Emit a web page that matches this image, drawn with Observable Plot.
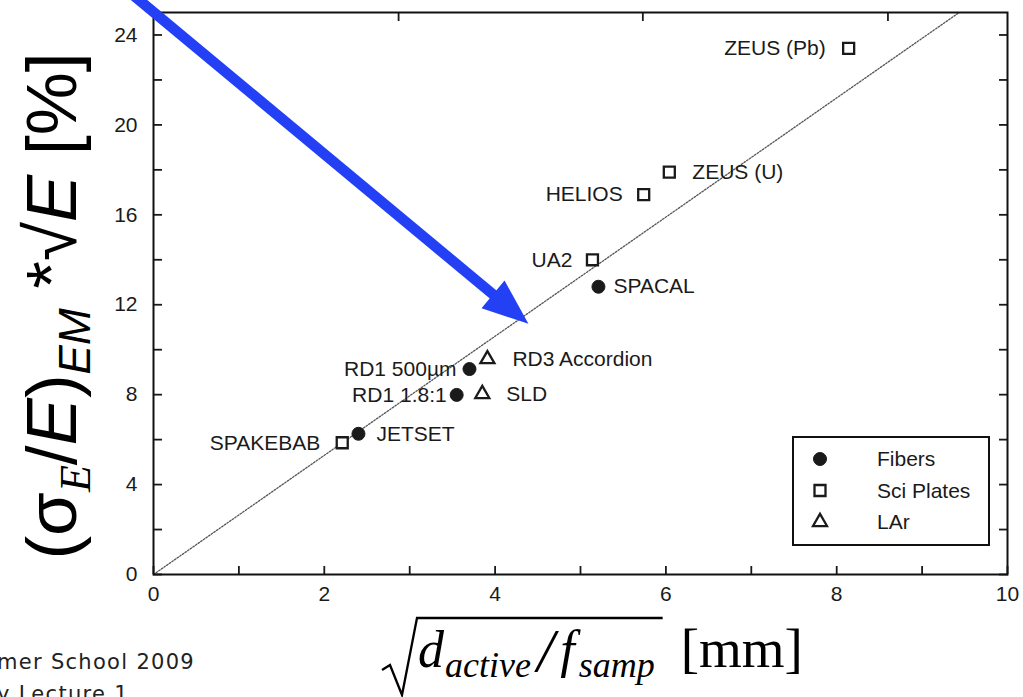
<!DOCTYPE html>
<html><head><meta charset="utf-8">
<script src="https://cdn.jsdelivr.net/npm/d3@7"></script>
<script src="https://cdn.jsdelivr.net/npm/@observablehq/plot@0.6"></script>
<style>html,body{margin:0;padding:0;background:#fff;overflow:hidden}</style>
</head><body><div id="chart"></div>
<script>
// ---- data ----
const experiments = ["ZEUS (Pb)", "ZEUS (U)", "HELIOS", "UA2", "SPACAL", "RD3 Accordion", "RD1 500µm", "SLD", "RD1 1.8:1", "SPAKEBAB", "JETSET"];
const samplingScale = [8.14, 6.04, 5.74, 5.14, 5.21, 3.91, 3.70, 3.85, 3.55, 2.21, 2.40];   // sqrt(d_active/f_samp) [mm]
const resolution = [23.4, 17.9, 16.9, 14.0, 12.8, 9.58, 9.14, 8.03, 7.99, 5.86, 6.26];     // (sigma/E)*sqrt(E) [%]
const technique = ["Sci Plates", "Sci Plates", "Sci Plates", "Sci Plates", "Fibers", "LAr", "Fibers", "LAr", "Fibers", "Sci Plates", "Fibers"];
const labelSide = ["left", "right", "left", "left", "right", "right", "left", "right", "left", "left", "right"];
const techniques = ["Fibers", "Sci Plates", "LAr"];
const fitX = [0, 10];
const fitY = [0, 26.5];
const xTickLabels = [0, 2, 4, 6, 8, 10];
const xTicks = [0, 1, 2, 3, 4, 5, 6, 7, 8, 9, 10];
const yTickLabels = [0, 4, 8, 12, 16, 20, 24];
const yTicks = [0, 2, 4, 6, 8, 10, 12, 14, 16, 18, 20, 22, 24];
const topTicks = [2.87, 5.73, 8.6];
const arrowX = [-0.5, 4.39];
const arrowY = [26.6, 11.15];

// ---- layout ----
const W = 1023, H = 697;
const M = {left: 153, right: 16, top: 12, bottom: 123};
const ink = "#1a1a1a";
const blue = "#2340f5";
const labelDx = {"ZEUS (Pb)": -23, "ZEUS (U)": 23, "HELIOS": -21, "UA2": -20, "SPACAL": 15, "RD3 Accordion": 25, "RD1 500µm": -13, "SLD": 24, "RD1 1.8:1": -10, "SPAKEBAB": -22, "JETSET": 18};
const symbolOf = {"Fibers": "circle", "Sci Plates": "square", "LAr": "triangle"};
const rOf = {"Fibers": 6.5, "Sci Plates": 6.2, "LAr": 5.2};

const rows = experiments.map((name, i) => ({name, x: samplingScale[i], y: resolution[i], type: technique[i], side: labelSide[i]}));
const fit = fitX.map((x, i) => ({x, y: fitY[i]}));
const arrow = [{x1: arrowX[0], y1: arrowY[0], x2: arrowX[1], y2: arrowY[1]}];

// arrow head direction in pixels (derived from the scales' linear mapping)
const kx = (W - M.left - M.right) / 10, ky = (H - M.top - M.bottom) / 25;
const adx = (arrowX[1] - arrowX[0]) * kx, ady = -(arrowY[1] - arrowY[0]) * ky;
const headRotate = Math.atan2(adx, -ady) * 180 / Math.PI;

const dotMarks = techniques.map(t => Plot.dot(rows.filter(d => d.type === t), {
  x: "x", y: "y", symbol: () => symbolOf[t], r: rOf[t],
  fill: t === "Fibers" ? ink : "white", stroke: ink, strokeWidth: t === "Fibers" ? 1 : 2.3
}));
const textMarks = rows.map(d => Plot.text([d], {
  x: "x", y: "y", text: "name", dx: labelDx[d.name],
  textAnchor: d.side === "left" ? "end" : "start", fill: ink, fontSize: 21
}));

const chart = Plot.plot({
  width: W, height: H,
  marginLeft: M.left, marginRight: M.right, marginTop: M.top, marginBottom: M.bottom,
  x: {domain: [0, 10], label: null},
  y: {domain: [0, 25], label: null},
  symbol: {domain: ["circle", "square", "triangle"], range: ["circle", "square", "triangle"]},
  style: {fontFamily: "Liberation Sans, Arial, sans-serif", fontSize: "21px", color: ink, background: "white", overflow: "hidden"},
  marks: [
    Plot.line(fit, {x: "x", y: "y", stroke: "#555", strokeWidth: 1.3, strokeDasharray: "1.6,1.6", clip: true}),
    Plot.axisX(xTickLabels, {tickSize: 0, tickPadding: 12, fill: ink}),
    Plot.axisX(xTicks, {tickSize: -8, tickFormat: () => "", strokeWidth: 1.8}),
    Plot.axisX(topTicks, {anchor: "top", tickSize: -8, tickFormat: () => "", strokeWidth: 1.8}),
    Plot.axisY(yTickLabels, {tickSize: 0, tickPadding: 16, fill: ink}),
    Plot.axisY(yTicks, {tickSize: -9, tickFormat: () => "", strokeWidth: 1.8}),
    Plot.axisY(yTicks, {anchor: "right", tickSize: -9, tickFormat: () => "", strokeWidth: 1.8}),
    Plot.frame({stroke: "#111", strokeWidth: 2}),
    ...dotMarks,
    ...textMarks,
    Plot.arrow(arrow, {x1: "x1", y1: "y1", x2: "x2", y2: "y2", stroke: blue, strokeWidth: 10.5, headLength: 0, insetEnd: 38, strokeLinecap: "butt"}),
    Plot.vector(arrow, {x: "x2", y: "y2", length: 46, rotate: headRotate, anchor: "end", shape: "spike", r: 18, fill: blue, stroke: "none"})
  ]
});
document.getElementById("chart").append(chart);

const svg = d3.select(chart);

// legend (box at lower right of the frame)
const frameR = W - M.right, frameB = H - M.bottom;
const lg = svg.append("g").attr("font-family", "Liberation Sans, Arial, sans-serif").attr("font-size", 21).attr("text-anchor", "start");
const box = {x: frameR - 214, y: frameB - 137, w: 196, h: 108};
lg.append("rect").attr("x", box.x).attr("y", box.y).attr("width", box.w).attr("height", box.h)
  .attr("fill", "white").attr("stroke", "#111").attr("stroke-width", 2);
techniques.forEach((t, i) => {
  const cy = box.y + 22 + i * 31.5;
  const sym = {circle: d3.symbolCircle, square: d3.symbolSquare, triangle: d3.symbolTriangle}[symbolOf[t]];
  lg.append("path").attr("transform", `translate(${box.x + 27},${cy})`)
    .attr("d", d3.symbol(sym, Math.PI * rOf[t] * rOf[t])())
    .attr("fill", t === "Fibers" ? ink : "white").attr("stroke", ink).attr("stroke-width", t === "Fibers" ? 1 : 2.3);
  lg.append("text").attr("x", box.x + 84).attr("y", cy).attr("dy", "0.35em").attr("fill", ink).text(t);
});

// y-axis title
const yt = svg.append("text")
  .attr("transform", "translate(76,306) rotate(-90)")
  .attr("text-anchor", "middle").attr("fill", "#000")
  .style("font-family", "Liberation Sans, Arial, sans-serif").style("font-size", "71px");
yt.append("tspan").text("(σ");
yt.append("tspan").attr("dy", 14).style("font-size", "44px").style("font-style", "italic").style("font-family", "Liberation Serif, serif").text("E");
yt.append("tspan").attr("dy", -14).text("/");
yt.append("tspan").style("font-style", "italic").text("E");
yt.append("tspan").text(")");
yt.append("tspan").attr("dy", 14).style("font-size", "44px").style("font-style", "italic").text("EM");
yt.append("tspan").attr("dy", -14).text(" *√");
yt.append("tspan").style("font-style", "italic").text("E");
yt.append("tspan").text(" [%]");

// x-axis title: sqrt(d_active / f_samp) [mm]
const bx = 418, by = 667;
const xt = svg.append("text").attr("x", bx).attr("y", by).attr("fill", "#000").attr("text-anchor", "start")
  .style("font-family", "Liberation Serif, Times New Roman, serif").style("font-style", "italic").style("font-size", "52px");
xt.append("tspan").text("d");
xt.append("tspan").attr("dy", 10).attr("dx", 1).style("font-size", "36px").text("active");
xt.append("tspan").attr("dy", -6).attr("dx", 6).style("font-size", "62px").text("/");
xt.append("tspan").attr("dy", -4).attr("dx", 6).text("f");
xt.append("tspan").attr("dy", 10).attr("dx", 4).style("font-size", "36px").text("samp");
const bb = xt.node().getBBox();
const endX = bb.x + bb.width + 8;
svg.append("path")
  .attr("d", `M${bx - 36},${by + 3} L${bx - 28},${by - 2} L${bx - 16},${by + 28} L${bx - 1},${by - 49} L${endX},${by - 49}`)
  .attr("fill", "none").attr("stroke", "#000").attr("stroke-width", 2.3).attr("stroke-linejoin", "miter");
svg.append("text").attr("x", endX + 18).attr("y", by).attr("fill", "#000").attr("text-anchor", "start")
  .style("font-family", "Liberation Serif, Times New Roman, serif").style("font-size", "55px").text("[mm]");

// slide footer fragments (cut at the left edge)
const ft = svg.append("g").attr("fill", "#222").attr("text-anchor", "start")
  .style("font-family", "DejaVu Sans, Verdana, sans-serif").style("font-size", "21px").style("letter-spacing", "1.3px");
ft.append("text").attr("x", -3).attr("y", 669).text("mer School 2009");
ft.append("text").attr("x", -3).attr("y", 701).text("y Lecture 1");
</script>
</body></html>
